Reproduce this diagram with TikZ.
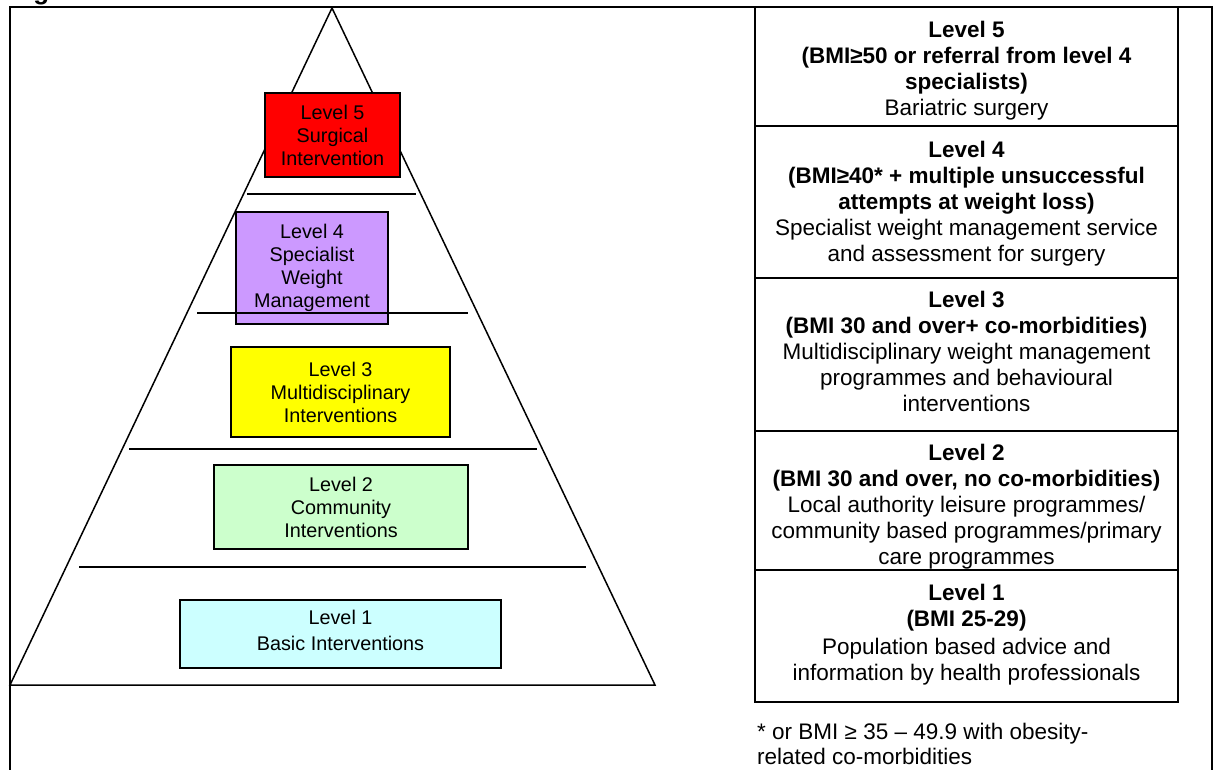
\documentclass[tikz,border=0pt]{standalone}
\usepackage{fontspec}
\setmainfont{Liberation Sans}
\definecolor{lv5}{HTML}{FF0000}
\definecolor{lv4}{HTML}{CC99FF}
\definecolor{lv3}{HTML}{FFFF00}
\definecolor{lv2}{HTML}{CCFFCC}
\definecolor{lv1}{HTML}{CCFFFF}
\begin{document}
\begin{tikzpicture}[x=1pt,y=-1pt,
  lvl/.style={draw=black, line width=1.6pt, align=center, inner sep=0pt,
    font=\fontsize{19.8}{23}\selectfont},
  frameline/.style={line width=1.8pt},
  rline/.style={line width=1.8pt},
  sepline/.style={line width=1.5pt},
  rtext/.style={align=center, anchor=north, inner sep=0pt,
    font=\fontsize{22.5}{26}\selectfont},
  foot/.style={align=left, anchor=north west, inner sep=0pt,
    font=\fontsize{22.5}{24.5}\selectfont},
]
\useasboundingbox (0,0) rectangle (1214,769);
% cropped caption
\node[anchor=base west, inner sep=0pt, font=\bfseries\fontsize{26}{26}\selectfont] (cap) at (10,-1) {Fig};
% outer frame
\draw[frameline] (10,790) -- (10,7) -- (1212,7) -- (1212,790);
% pyramid
\coordinate (apex) at (332,8);
\coordinate (bl) at (10,685);
\coordinate (br) at (655,685);
\draw[line width=1.5pt, line join=miter] (apex) -- (bl) -- (br) -- cycle;
% level boxes
\node[lvl, fill=lv5, minimum width=135, minimum height=84] (p5) at (332.5,135) {Level 5\\Surgical\\Intervention};
\node[lvl, fill=lv4, minimum width=152, minimum height=112] (p4) at (312,268) {Level 4\\Specialist\\Weight\\Management};
\node[lvl, fill=lv3, minimum width=219, minimum height=90] (p3) at (340.5,392) {Level 3\\Multidisciplinary\\Interventions};
\node[lvl, fill=lv2, minimum width=254, minimum height=84] (p2) at (341,507) {Level 2\\Community\\Interventions};
\node[lvl, fill=lv1, minimum width=321, minimum height=68] (p1) at (340.5,634) {Level 1\\[3pt]Basic Interventions\rule[-8pt]{0pt}{8pt}};
% separators
\draw[sepline] (247,194) -- (416,194);
\draw[sepline] (197,313) -- (468,313);
\draw[sepline] (129,449) -- (537,449);
\draw[sepline] (79,567) -- (586,567);
% right column
\draw[rline] (755,7) rectangle (1178,702);
\draw[rline] (755,126) -- (1178,126);
\draw[rline] (755,278) -- (1178,278);
\draw[rline] (755,431) -- (1178,431);
\draw[rline] (755,570) -- (1178,570);
\node[rtext] (t5) at (966.5,21) {\textbf{Level 5}\\\textbf{(BMI≥50 or referral from level 4}\\\textbf{specialists)}\\Bariatric surgery};
\node[rtext] (t4) at (966.5,141) {\textbf{Level 4}\\\textbf{(BMI≥40* + multiple unsuccessful}\\\textbf{attempts at weight loss)}\\Specialist weight management service\\and assessment for surgery};
\node[rtext] (t3) at (966.5,291) {\textbf{Level 3}\\\textbf{(BMI 30 and over+ co-morbidities)}\\Multidisciplinary weight management\\programmes and behavioural\\interventions};
\begin{scope}
\clip (755,432) rectangle (1178,568.5);
\node[rtext] (t2) at (966.5,444) {\textbf{Level 2}\\\textbf{(BMI 30 and over, no co-morbidities)}\\Local authority leisure programmes/\\community based programmes/primary\\care programmes};
\end{scope}
\node[rtext] (t1) at (966.5,584) {\textbf{Level 1}\\\textbf{(BMI 25-29)}\\[1.5pt]Population based advice and\\information by health professionals};
\node[foot] (fn) at (757,723) {* or BMI ≥ 35 – 49.9 with obesity-\\related co-morbidities};
\end{tikzpicture}
\end{document}
